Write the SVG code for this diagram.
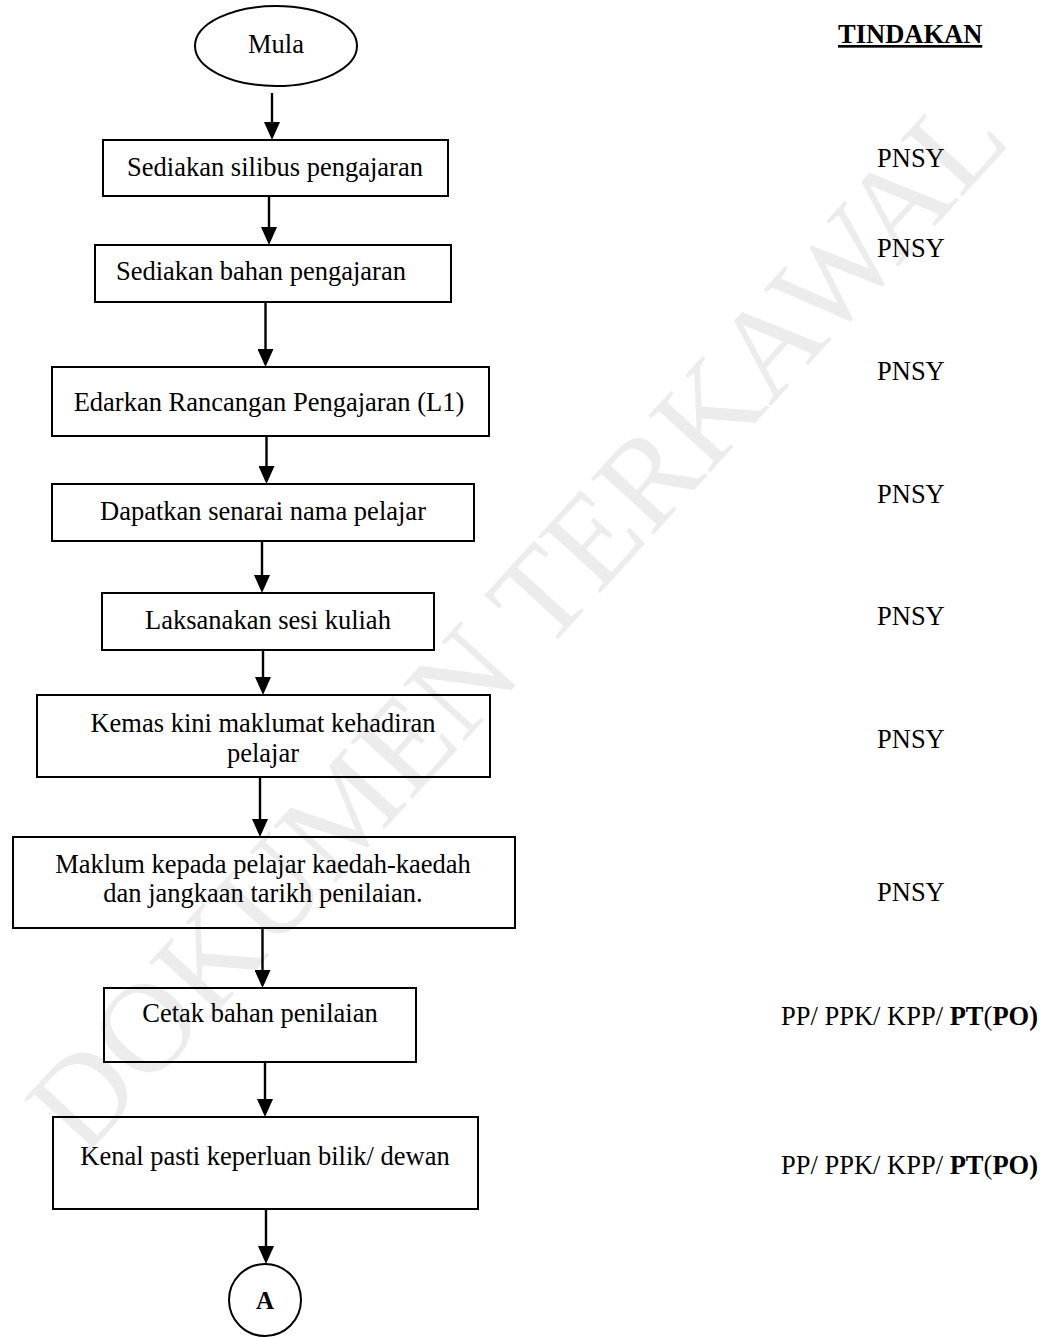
<svg xmlns="http://www.w3.org/2000/svg" width="1044" height="1338" viewBox="0 0 1044 1338">
<style>
  text { font-family: "Liberation Serif", "Times New Roman", serif; font-size: 26.5px; fill: #000; }
  .box { fill: none; stroke: #000; stroke-width: 2; }
  .c { text-anchor: middle; }
  .b { font-weight: bold; }
  .conn line { stroke: #000; stroke-width: 2.4; marker-end: url(#arr); }
  .wm { font-size: 128px; fill: #ececec; text-anchor: middle; }
</style>
<defs>
  <marker id="arr" markerUnits="userSpaceOnUse" viewBox="0 0 18 16" refX="14" refY="8" markerWidth="18" markerHeight="16" orient="auto">
    <path d="M0,0 L18,8 L0,16 z" fill="#000"/>
  </marker>
</defs>
<rect width="1044" height="1338" fill="#fff"/>
<g id="watermark">
  <text class="wm" x="548" y="650" transform="rotate(-47.6 548 650)">DOKUMEN TERKAWAL</text>
</g>
<g class="conn" id="connectors">
  <line x1="272" y1="93" x2="272" y2="136"/>
  <line x1="269" y1="196" x2="269" y2="241"/>
  <line x1="265.5" y1="302" x2="265.5" y2="363"/>
  <line x1="266.5" y1="436" x2="266.5" y2="480"/>
  <line x1="262" y1="541" x2="262" y2="589"/>
  <line x1="263" y1="650" x2="263" y2="691"/>
  <line x1="260" y1="777" x2="260" y2="833"/>
  <line x1="262.5" y1="928" x2="262.5" y2="984"/>
  <line x1="265" y1="1062" x2="265" y2="1113"/>
  <line x1="266" y1="1209" x2="266" y2="1260"/>
</g>
<g id="mula">
  <ellipse cx="276" cy="46" rx="81" ry="40" class="box"/>
  <text class="c" x="276" y="53">Mula</text>
</g>
<g id="n1">
  <rect class="box" x="103" y="140" width="345" height="56"/>
  <text class="c" x="275" y="176">Sediakan silibus pengajaran</text>
</g>
<g id="n2">
  <rect class="box" x="95" y="245" width="356" height="57"/>
  <text x="116" y="280">Sediakan bahan pengajaran</text>
</g>
<g id="n3">
  <rect class="box" x="52" y="367" width="437" height="69"/>
  <text class="c" x="269" y="411">Edarkan Rancangan Pengajaran (L1)</text>
</g>
<g id="n4">
  <rect class="box" x="52" y="484" width="422" height="57"/>
  <text class="c" x="263" y="520">Dapatkan senarai nama pelajar</text>
</g>
<g id="n5">
  <rect class="box" x="102" y="593" width="332" height="57"/>
  <text class="c" x="268" y="629">Laksanakan sesi kuliah</text>
</g>
<g id="n6">
  <rect class="box" x="37" y="695" width="453" height="82"/>
  <text class="c" x="263" y="732">Kemas kini maklumat kehadiran</text>
  <text class="c" x="263" y="762">pelajar</text>
</g>
<g id="n7">
  <rect class="box" x="13" y="837" width="502" height="91"/>
  <text class="c" x="263" y="873">Maklum kepada pelajar kaedah-kaedah</text>
  <text class="c" x="263" y="902">dan jangkaan tarikh penilaian.</text>
</g>
<g id="n8">
  <rect class="box" x="104" y="988" width="312" height="74"/>
  <text class="c" x="260" y="1022">Cetak bahan penilaian</text>
</g>
<g id="n9">
  <rect class="box" x="53" y="1117" width="425" height="92"/>
  <text class="c" x="265" y="1165">Kenal pasti keperluan bilik/ dewan</text>
</g>
<g id="connA">
  <circle class="box" cx="265" cy="1300" r="36"/>
  <text class="c b" x="265" y="1309" style="font-size:25px">A</text>
</g>
<g id="tindakan">
  <text class="b" x="838" y="43" text-decoration="underline">TINDAKAN</text>
  <text x="877" y="167">PNSY</text>
  <text x="877" y="257">PNSY</text>
  <text x="877" y="380">PNSY</text>
  <text x="877" y="503">PNSY</text>
  <text x="877" y="625">PNSY</text>
  <text x="877" y="748">PNSY</text>
  <text x="877" y="901">PNSY</text>
  <text x="781" y="1025">PP/ PPK/ KPP/ <tspan class="b">PT</tspan>(<tspan class="b">PO)</tspan></text>
  <text x="781" y="1174">PP/ PPK/ KPP/ <tspan class="b">PT</tspan>(<tspan class="b">PO)</tspan></text>
</g>
</svg>
